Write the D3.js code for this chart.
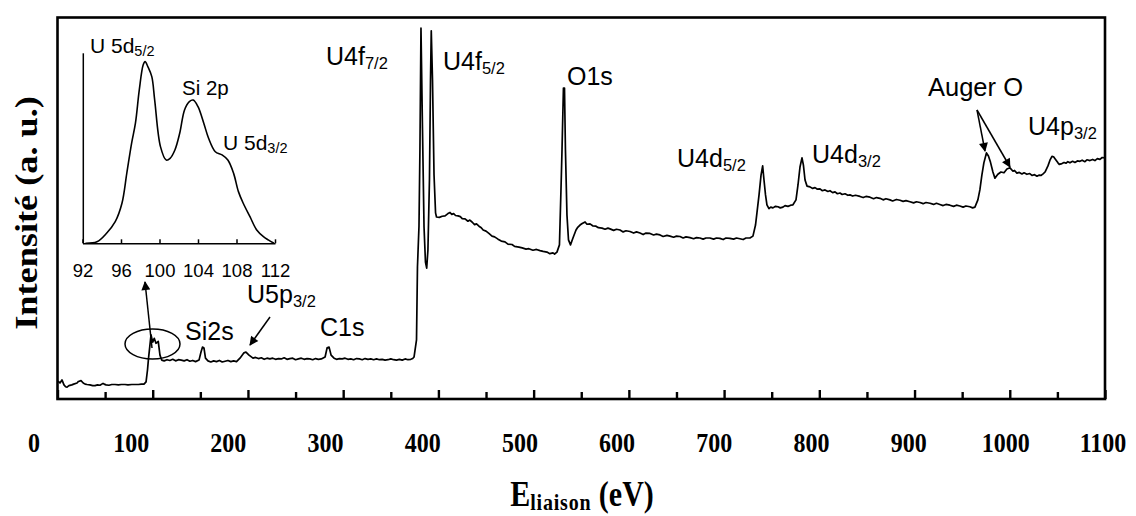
<!DOCTYPE html>
<html><head><meta charset="utf-8">
<script src="https://cdn.jsdelivr.net/npm/d3@7"></script>
<style>body{margin:0;background:#fff}svg{display:block}</style>
</head><body><svg id="c" width="1136" height="516"></svg>
<script>
// ---- main survey spectrum (binding energy eV, intensity a.u.) ----
const spectrum = [[0.5,4.7],[2.6,4.2],[4.7,5.0],[6.8,3.7],[8.5,3.2],[10,3.1],[12,3.5],[15,3.7],[17,3.9],[20.5,4.2],[22,4.6],[24.7,4.8],[27,4.2],[29,3.9],[31,3.8],[34,3.7],[37,3.5],[39.4,3.5],[42,3.7],[44.6,3.6],[47.8,4.1],[49,3.9],[51,3.7],[54,3.6],[57,3.8],[60.4,3.8],[64,3.7],[67,3.8],[70.9,3.8],[74,3.7],[78,3.8],[81.4,3.8],[85,3.8],[88,3.9],[90.8,3.9],[93,4.5],[94.5,7.6],[95.6,10.7],[97.1,14.2],[98.2,16.8],[100,14.9],[101.6,15.9],[103.4,14.6],[105.8,15.1],[107.6,11.5],[109.4,10.2],
[112,10.0],[115,10.3],[118,10.1],[121,10.4],[124,10.0],[127,10.3],[130,10.2],[133,10.0],[136,10.3],[139,9.9],[142,10.1],[145,9.8],[148.6,10.2],[150.7,12.3],[152.3,13.6],[153.8,13.4],[155.4,10.7],[158,10.0],[161,9.7],[164,10.0],[167,9.8],[170,10.1],[173,9.7],[176,9.9],[179,10.1],[182,9.8],[185,10.0],[188,9.8],[191.6,10.7],[195.8,12.1],[197.9,12.3],[201.1,11.5],[205.3,10.7],[208,10.9],[211,10.6],[214,10.8],[217,10.4],[220,10.7],[223,10.5],[226,10.7],[229,10.4],[232,10.6],[235,10.5],[238,10.8],[241,10.4],[244,10.6],[247,10.7],[250,10.3],[253,10.5],[256,10.7],[259,10.4],[262,10.6],[265,10.5],[268,10.3],[271,10.6],[274,10.4],[277,10.5],[281,11.0],[283.1,13.4],[285.2,13.6],[287.3,11.5],[290.4,10.7],[293,10.4],[296,10.6],[299,10.5],[302,10.7],[305,10.4],[308,10.5],[311,10.3],[314,10.6],[317,10.5],[320,10.3],[323,10.6],[326,10.4],[329,10.5],[332,10.3],[335,10.5],[338,10.3],[341,10.4],[344,10.2],[347,10.3],[350,10.5],[353,10.3],[356,10.2],[359,10.4],[362,10.2],[365,10.5],[368,10.3],[371,10.4],[373,10.6],[374.4,11.0],[377,15.5],[378,34.6],[379.6,45.3],[380.6,65.3],[381.7,97.2],[383.3,70.5],[384.9,45.1],[386.4,35.9],[387.7,34.3],[389,39.1],[390.6,57.4],[391.7,83.6],[392.5,96.5],[393.8,83.6],[395.4,58.7],[397,48.8],[398,47.7],
[401,47.6],[404,47.9],[407,48.0],[410,48.6],[412.2,48.9],[414,48.4],[416,48.6],[418,48.1],[420.6,48.0],[423,47.8],[425,47.3],[428,47.2],[431,46.6],[433,46.9],[435.3,46.4],[438,45.7],[440,45.9],[442.6,45.3],[445,44.9],[447,44.3],[450,44.0],[453,43.4],[456.3,42.7],[459,42.5],[462.6,41.9],[466,41.4],[469.9,41.2],[473,40.6],[477.3,40.5],[480,40.0],[484.6,39.8],[488,39.6],[492,39.3],[495,39.4],[499.3,39.0],[503,39.2],[506.7,38.9],[510,38.7],[514,38.5],[517,38.1],[520.3,38.3],[522,38.0],[524.5,38.5],[527.1,40.4],[528.7,54.8],[529.8,65.3],[531.3,81.5],[532.4,81.5],[533.4,65.3],[535,48.2],[536.6,41.7],[538.7,40.4],[541.3,42.2],[544.5,44.3],[546,44.9],[548.7,45.6],[551,46.0],[554,46.4],[556,45.8],[559.2,45.9],[562,45.4],[565.5,45.3],[568,44.9],[571.8,44.8],[575,44.5],[578,44.8],[580.2,44.6],[584,44.2],[587,44.5],[590.7,44.3],[594,43.8],[597,44.1],[601.2,43.9],[605,43.5],[608,43.8],[611.7,43.5],[615,43.1],[618,43.5],[622.2,43.4],[626,43.0],[629,43.2],[632.7,43.0],[636,42.6],[640,42.9],[643.2,42.7],[647,42.4],[650,42.7],[653.7,42.6],[657,42.2],[660,42.5],[664.2,42.3],[668,42.0],[671,42.3],[674.6,42.2],[678,41.9],[681,42.2],[685.1,42.2],[689,41.9],[692,42.2],[695.6,42.1],[699,41.8],[702,42.2],[706.1,42.1],[710,41.9],[713,42.2],[716.6,42.0],[720,41.8],[723,42.2],[727.1,42.2],[730.3,42.7],[733,45.6],[734.5,48.8],[736.7,53.5],[738.8,58.7],[740.5,61.1],[741.9,57.4],[743.5,53.5],[745,50.9],[747.1,49.9],[749,50.3],[751.3,50.1],[754,50.5],[756.6,50.4],[759,50.1],[761.8,50.3],[764,50.7],[767.1,50.5],[770,50.8],[772.3,50.9],[775.5,52.2],[777.6,56.1],[779.7,60.8],[781.8,63.2],[783.3,61.3],[785,57.4],[787.1,55.8],[790.2,55.6],[793,55.2],[795.5,55.4],[798,55.0],[800.7,55.1],[803,54.6],[806,54.8],[809,54.4],[811.2,54.6],[814,54.1],[816.5,54.3],[819,53.8],[821.7,54.0],[824,53.6],[827,53.8],[830,53.4],[832.2,53.5],[835,53.2],[838,53.4],[842.7,53.1],[846,52.8],[849,53.1],[853.2,52.9],[857,52.5],[860,52.8],[863.7,52.6],[867,52.2],[870,52.5],[874.2,52.2],[877,51.9],[881,52.3],[884.7,52.1],[888,51.8],[891,52.0],[895.2,51.7],[899,51.4],[902,51.7],[905.7,51.5],[909,51.2],[912,51.5],[916.2,51.3],[920,51.0],[923,51.3],[926.6,51.0],[930,50.7],[933,51.0],[937.1,50.8],[941,50.5],[944,50.8],[947.6,50.6],[951,50.3],[954,50.6],[958.1,50.4],[961,50.1],[963.4,50.3],[966.5,52.2],[968.6,54.8],[970.7,58.7],[972.8,61.9],[975.5,64.5],[977.6,63.7],[979.7,62.1],[982.3,59.5],[984.4,57.9],[987.5,58.9],[990.7,59.5],[993.9,59.3],[997,60.3],[1000.2,60.6],[1003.4,59.7],[1005,59.9],[1007.5,59.2],[1010,59.4],[1012.8,59.0],[1015,59.3],[1018,58.9],[1021,59.1],[1023.3,58.6],[1026,58.8],[1028.6,58.4],[1031,58.7],[1032.7,58.6],[1035,59.0],[1037,59.5],[1040.1,61.1],[1042.2,62.6],[1044.3,63.6],[1046,63.5],[1047.5,63.0],[1050.6,61.9],[1052,61.5],[1054.8,61.7],[1057,62.0],[1059,61.8],[1061,62.2],[1063.2,61.9],[1066,62.3],[1068.4,62.0],[1071,62.4],[1073.7,62.3],[1076,62.6],[1078.9,62.2],[1081,62.7],[1084.2,62.5],[1087,62.8],[1089.4,62.5],[1092,63.0],[1094.7,62.8],[1097,63.3],[1099.9,63.2]];
const energyEV = spectrum.map(d => d[0]);
const intensityAU = spectrum.map(d => d[1]);

// ---- inset: U 5d / Si 2p region ----
const insetEnergy = [92.3,93.5,94.5,95.4,96.1,96.6,97.1,97.5,97.9,98.3,98.5,98.8,99.2,99.5,100.1,100.7,101.1,101.6,102.1,102.6,103.1,103.5,104.0,104.6,105.1,105.8,106.5,107.1,107.7,108.2,108.7,109.4,110.1,110.8,111.3,111.9];
const insetIntensity = [0,0.8,5.3,11.4,21.1,36.8,52.6,63.2,80.7,93.8,95.6,92.9,87.7,75.4,50.9,43.8,44.7,49.1,57.9,70.2,74.6,75.4,71.9,63.2,55.3,48.2,46.5,43.8,36.8,27.2,21.1,14.0,7.0,3.5,1.8,0];

// ---- ticks ----
const xMajorTicks = [0,100,200,300,400,500,600,700,800,900,1000,1100];
const xMinorTicks = [50,150,250,350,450,550,650,750,850,950,1050];
const insetTicks = [92,96,100,104,108,112];

const svg = d3.select("#c");
const x = d3.scaleLinear().domain([0,1100]).range([57.5,1105]);
// the original figure's tick labels are spread on their own band, offset from the ticks
const xLab = d3.scaleLinear().domain([0,1100]).range([34,1103]);
const y = d3.scaleLinear().domain([0,100]).range([399,17.5]);
const ix = d3.scaleLinear().domain([92,112]).range([82.5,275]);
const iy = d3.scaleLinear().domain([0,100]).range([243.3,53.3]);

const SANS = "'Liberation Sans', Arial, sans-serif";
const SERIF = "'Liberation Serif', 'Times New Roman', serif";

// defs: arrowhead
svg.append("defs").append("marker")
  .attr("id","ah").attr("viewBox","0 0 10 10").attr("refX",9).attr("refY",5)
  .attr("markerWidth",11).attr("markerHeight",9).attr("markerUnits","userSpaceOnUse")
  .attr("orient","auto")
  .append("path").attr("d","M0,0 L10,5 L0,10 Z").attr("fill","#000");

// frame
svg.append("rect").attr("x",x(0)).attr("y",y(100)).attr("width",x(1100)-x(0)).attr("height",y(0)-y(100))
  .attr("fill","none").attr("stroke","#000").attr("stroke-width",2.6);

// ticks (inward)
const axMinor = d3.axisBottom(x).tickValues(xMinorTicks).tickSizeInner(-7).tickSizeOuter(0).tickFormat("");
const axMajor = d3.axisBottom(x).tickValues(xMajorTicks).tickSizeInner(-9).tickSizeOuter(0).tickFormat("");
[axMinor, axMajor].forEach(ax => {
  const g = svg.append("g").attr("transform",`translate(0,${y(0)})`).call(ax);
  g.select(".domain").remove();
  g.selectAll("line").attr("stroke","#000").attr("stroke-width",2.4);
});
// tick labels
svg.append("g").selectAll("text").data(xMajorTicks).join("text")
  .attr("transform", d => `translate(${xLab(d)},452) scale(1,1.17)`)
  .attr("text-anchor","middle").attr("font-family",SERIF).attr("font-weight","bold")
  .attr("font-size",24).text(d => d);

// spectrum line
const line = d3.line().x((d,i) => x(energyEV[i])).y((d,i) => y(intensityAU[i]));
svg.append("path").datum(energyEV).attr("d",line).attr("fill","none")
  .attr("stroke","#000").attr("stroke-width",1.7).attr("stroke-linejoin","round");

// axis titles
svg.append("text").attr("transform","translate(37,213) rotate(-90) scale(1.17,1)")
  .attr("text-anchor","middle").attr("font-family",SERIF).attr("font-weight","bold")
  .attr("font-size",31).text("Intensité (a. u.)");
const xt = svg.append("text").attr("transform","translate(582,506) scale(1,1.17)")
  .attr("text-anchor","middle").attr("font-family",SERIF).attr("font-weight","bold").attr("font-size",30);
xt.append("tspan").text("E");
xt.append("tspan").attr("font-size",20).attr("dy",3).attr("letter-spacing",0.8).text("liaison");
xt.append("tspan").attr("dy",-3).text(" (eV)");

// labels helper
function lab(px, py, main, sub, size, subSize, shift) {
  const t = svg.append("text").attr("x",px).attr("y",py).attr("font-family",SANS)
    .attr("font-size",size).attr("fill","#000");
  t.append("tspan").text(main);
  if (sub) t.append("tspan").attr("font-size",subSize).attr("dy",shift).text(sub);
  return t;
}
lab(326,65,"U4f","7/2",25,16.5,4);
lab(443,70,"U4f","5/2",25,16.5,4);
lab(567,85,"O1s",null,25);
lab(677,167,"U4d","5/2",25,16.5,4);
lab(812,163,"U4d","3/2",25,16.5,4);
lab(928,96,"Auger O",null,25.5);
lab(1028,135,"U4p","3/2",25,16.5,4);
lab(320,336,"C1s",null,25);
lab(185,340,"Si2s",null,25);
lab(247,303,"U5p","3/2",25,16.5,4);

// arrows
function arrow(x1,y1,x2,y2){
  svg.append("line").attr("x1",x1).attr("y1",y1).attr("x2",x2).attr("y2",y2)
    .attr("stroke","#000").attr("stroke-width",1.5).attr("marker-end","url(#ah)");
}
arrow(270,317,250,345);
arrow(977,110,985,151);
arrow(977,110,1010,167);
arrow(152,348,145,282);
svg.append("ellipse").attr("cx",152.5).attr("cy",344).attr("rx",27.5).attr("ry",15)
  .attr("fill","none").attr("stroke","#000").attr("stroke-width",1.5);

// inset
svg.append("line").attr("x1",ix(92)+0.8).attr("x2",ix(92)+0.8).attr("y1",iy(0)).attr("y2",iy(100))
  .attr("stroke","#000").attr("stroke-width",1.5);
const iax = svg.append("g").attr("transform",`translate(0,${iy(0)})`)
  .call(d3.axisBottom(ix).tickValues(insetTicks).tickSizeInner(-4).tickSizeOuter(0).tickPadding(20.5));
iax.select(".domain").attr("stroke","#000").attr("stroke-width",1.5);
iax.selectAll("line").attr("stroke","#000").attr("stroke-width",1.5);
iax.selectAll("text").attr("font-family",SANS).attr("font-size",18.5).attr("fill","#000");
const iline = d3.line().x((d,i) => ix(insetEnergy[i])).y((d,i) => iy(insetIntensity[i])).curve(d3.curveCatmullRom);
svg.append("path").datum(insetEnergy).attr("d",iline).attr("fill","none")
  .attr("stroke","#000").attr("stroke-width",1.6);
lab(90,52.7,"U 5d","5/2",21,14.5,3);
lab(182,95,"Si 2p",null,20.5);
lab(223,150,"U 5d","3/2",21,14.5,3);
</script></body></html>
